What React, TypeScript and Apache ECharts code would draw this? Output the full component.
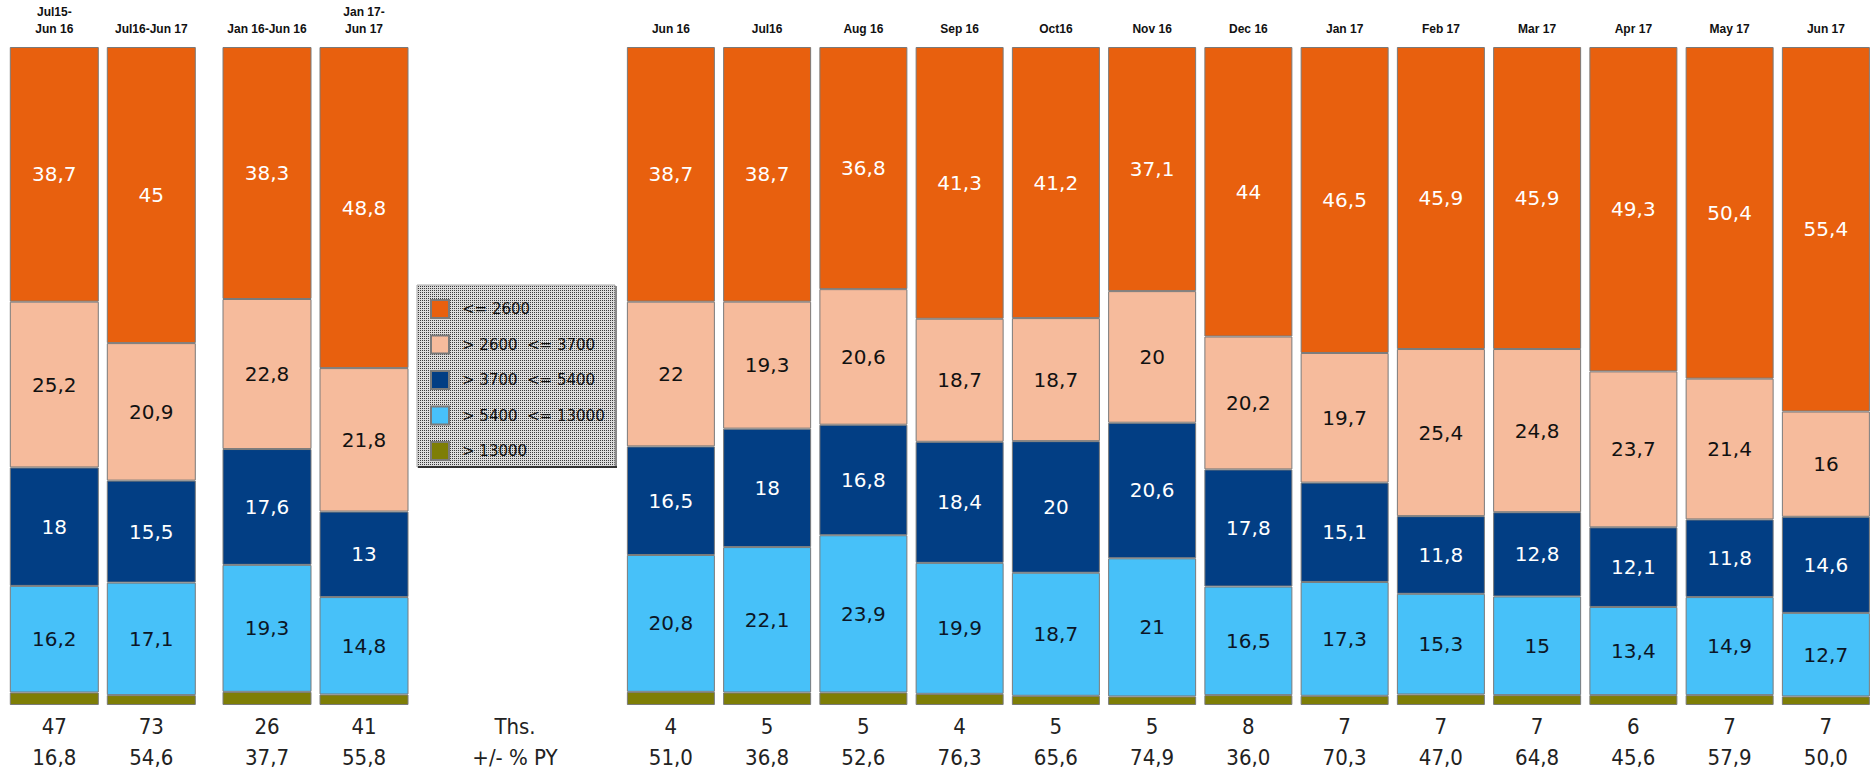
import React, { useEffect, useRef } from "react";
import * as echarts from "echarts";

const categories = [
  "Jul15-\nJun 16", "Jul16-Jun 17",
  "Jan 16-Jun 16", "Jan 17-\nJun 17",
  "Jun 16", "Jul16", "Aug 16", "Sep 16", "Oct16", "Nov 16", "Dec 16",
  "Jan 17", "Feb 17", "Mar 17", "Apr 17", "May 17", "Jun 17",
];
const le2600 = [38.7, 45, 38.3, 48.8, 38.7, 38.7, 36.8, 41.3, 41.2, 37.1, 44, 46.5, 45.9, 45.9, 49.3, 50.4, 55.4];
const r2600to3700 = [25.2, 20.9, 22.8, 21.8, 22, 19.3, 20.6, 18.7, 18.7, 20, 20.2, 19.7, 25.4, 24.8, 23.7, 21.4, 16];
const r3700to5400 = [18, 15.5, 17.6, 13, 16.5, 18, 16.8, 18.4, 20, 20.6, 17.8, 15.1, 11.8, 12.8, 12.1, 11.8, 14.6];
const r5400to13000 = [16.2, 17.1, 19.3, 14.8, 20.8, 22.1, 23.9, 19.9, 18.7, 21, 16.5, 17.3, 15.3, 15, 13.4, 14.9, 12.7];
const gt13000 = [1.9, 1.5, 2.0, 1.6, 2.0, 1.9, 1.9, 1.7, 1.4, 1.3, 1.5, 1.4, 1.6, 1.5, 1.5, 1.5, 1.3];
const thousands = ["47", "73", "26", "41", "4", "5", "5", "4", "5", "5", "8", "7", "7", "7", "6", "7", "7"];
const pctPY = ["16,8", "54,6", "37,7", "55,8", "51,0", "36,8", "52,6", "76,3", "65,6", "74,9", "36,0", "70,3", "47,0", "64,8", "45,6", "57,9", "50,0"];
const rowTitles = ["Ths.", "+/- % PY"];

const seriesDefs = [
  { name: "> 13000", data: gt13000, color: "#7e7e06", label: null },
  { name: "> 5400  <= 13000", data: r5400to13000, color: "#47c1f9", label: "#0c1626" },
  { name: "> 3700  <= 5400", data: r3700to5400, color: "#023e84", label: "#ffffff" },
  { name: "> 2600  <= 3700", data: r2600to3700, color: "#f6bb9c", label: "#111111" },
  { name: "<= 2600", data: le2600, color: "#e8600e", label: "#ffffff" },
];
const legendOrder = ["<= 2600", "> 2600  <= 3700", "> 3700  <= 5400", "> 5400  <= 13000", "> 13000"];

const groups = [
  { start: 0, end: 2, left: 5.8, width: 194, barWidth: 89 },
  { start: 2, end: 4, left: 218.5, width: 194, barWidth: 89 },
  { start: 4, end: 17, left: 622.75, width: 1267.5, barWidth: 88 },
];

const narrowFont = "'Liberation Sans Narrow', 'DejaVu Sans Condensed', 'Liberation Sans', sans-serif";

export default function App() {
  const ref = useRef<HTMLDivElement>(null);
  useEffect(() => {
    if (!ref.current) return;
    const chart = echarts.init(ref.current, null, { renderer: "svg" });

    const cv = document.createElement("canvas");
    cv.width = 2;
    cv.height = 2;
    const ctx = cv.getContext("2d");
    if (ctx) {
      ctx.fillStyle = "#dcdcdc";
      ctx.fillRect(0, 0, 2, 2);
      ctx.fillStyle = "#3a3a3a";
      ctx.fillRect(0, 0, 1, 1);
    }
    const patternUrl = cv.toDataURL();

    const grids: any[] = [];
    const xAxes: any[] = [];
    const yAxes: any[] = [];
    const series: any[] = [];
    groups.forEach((g, gi) => {
      const cats = categories.slice(g.start, g.end);
      grids.push({ left: g.left, width: g.width, top: 47, height: 658 });
      xAxes.push({
        type: "category", gridIndex: gi, data: cats, position: "bottom",
        axisLine: { show: false }, axisTick: { show: false },
        axisLabel: {
          interval: 0, margin: 6, hideOverlap: false,
          formatter: (_v: string, i: number) => `{a|${thousands[g.start + i]}}\n{b|${pctPY[g.start + i]}}`,
          rich: {
            a: { fontFamily: narrowFont, fontSize: 22, lineHeight: 31, color: "#222" },
            b: { fontFamily: narrowFont, fontSize: 22, lineHeight: 31, color: "#222" },
          },
        },
      });
      xAxes.push({
        type: "category", gridIndex: gi, data: cats, position: "top",
        axisLine: { show: false }, axisTick: { show: false },
        axisLabel: {
          interval: 0, margin: 10, hideOverlap: false,
          fontFamily: "'Liberation Sans', Arial, sans-serif", fontSize: 12, fontWeight: "bold",
          lineHeight: 17, color: "#111",
        },
      });
      yAxes.push({ type: "value", gridIndex: gi, min: 0, max: 100, show: false });
      seriesDefs.forEach((s) => {
        series.push({
          name: s.name, type: "bar", stack: "g" + gi,
          xAxisIndex: gi * 2, yAxisIndex: gi,
          barWidth: g.barWidth,
          data: s.data.slice(g.start, g.end),
          itemStyle: { color: s.color, borderColor: "#7a7a7a", borderWidth: 1 },
          label: s.label
            ? {
                show: true, position: "inside",
                formatter: (p: any) => String(p.value).replace(".", ","),
                fontFamily: "'DejaVu Sans', sans-serif", fontSize: 20, color: s.label,
              }
            : { show: false },
          emphasis: { disabled: true },
        });
      });
    });

    chart.setOption({
      animation: false,
      backgroundColor: "#ffffff",
      grid: grids,
      xAxis: xAxes,
      yAxis: yAxes,
      series,
      legend: {
        data: legendOrder,
        orient: "vertical",
        left: 430, top: 299,
        itemWidth: 18, itemHeight: 18, itemGap: 15.5,
        padding: 0, z: 10,
        icon: "rect",
        selectedMode: false,
        textStyle: { fontFamily: "'DejaVu Sans', sans-serif", fontSize: 15, color: "#111", padding: [0, 0, 0, 8] },
      },
      graphic: [
        {
          type: "rect", z: 1,
          shape: { x: 417, y: 285, width: 198, height: 182 },
          style: {
            fill: { image: patternUrl, repeat: "repeat", imageWidth: 2, imageHeight: 2 } as any,
            stroke: "#a8a8a8", lineWidth: 1,
          },
        },
        { type: "line", z: 2, shape: { x1: 616, y1: 286, x2: 616, y2: 468 }, style: { stroke: "#8a8a8a", lineWidth: 2 } },
        { type: "line", z: 2, shape: { x1: 418, y1: 467, x2: 617, y2: 467 }, style: { stroke: "#333", lineWidth: 2 } },
        {
          type: "text", x: 515, y: 726,
          style: { text: rowTitles[0], fontFamily: narrowFont, fontSize: 22, fill: "#222", align: "center", verticalAlign: "middle" },
        },
        {
          type: "text", x: 515, y: 757,
          style: { text: rowTitles[1], fontFamily: narrowFont, fontSize: 22, fill: "#222", align: "center", verticalAlign: "middle" },
        },
      ],
    });
    return () => chart.dispose();
  }, []);
  return <div ref={ref} style={{ position: "absolute", left: 0, top: 0, width: 1874, height: 769 }} />;
}
